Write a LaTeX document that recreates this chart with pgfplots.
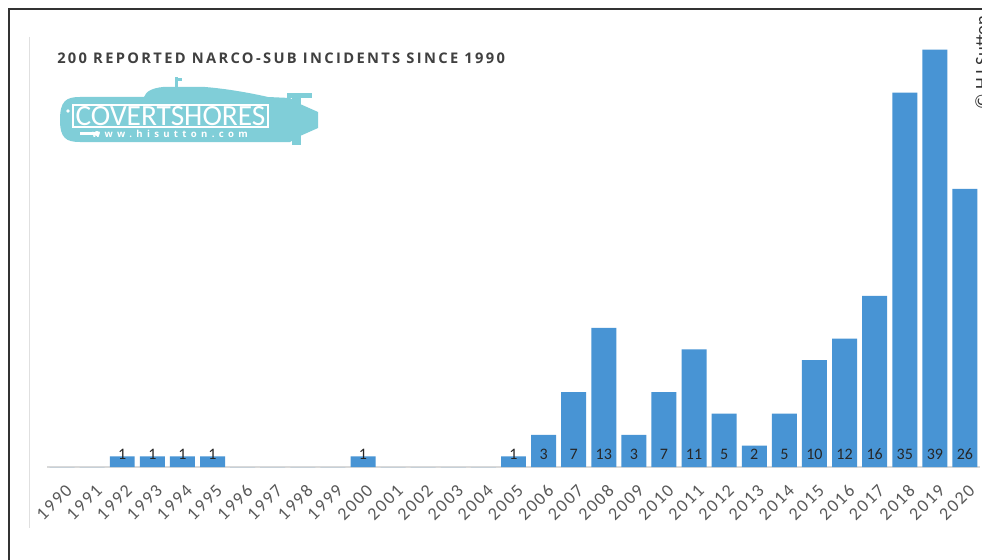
\documentclass[border=0pt]{standalone}
\usepackage{fontspec}
\setmainfont{Carlito}
\newfontfamily\titlefont[LetterSpace=16]{Open Sans}
\newfontfamily\logofont[LetterSpace=45]{Open Sans}
\newfontfamily\tickfam[LetterSpace=10]{Carlito}
\usepackage{pgfplots}
\pgfplotsset{compat=1.18}
\definecolor{barblue}{RGB}{72,148,212}
\definecolor{logoteal}{RGB}{128,206,216}
\definecolor{ticktext}{RGB}{89,89,89}
\definecolor{titletext}{RGB}{64,64,64}
\newcommand{\tickfont}{\tickfam\fontsize{13.5}{14}\selectfont}
\newcommand{\labfont}{\fontsize{12}{13}\selectfont}
\begin{document}
\begin{tikzpicture}
\begin{scope}[x=0.75pt,y=-0.75pt]
\useasboundingbox (0,0) rectangle (982,560);
\fill[white] (0,0) rectangle (982,560);
\draw[black!80, line width=1.5pt] (9,560) -- (9,9) -- (990,9);
\draw[black!12, line width=0.75pt] (29,37) -- (29,528);
% title
\node[anchor=base west, inner sep=0, text=titletext, font=\titlefont\bfseries\fontsize{11}{13}\selectfont] at (57,63.5) {200 REPORTED NARCO-SUB INCIDENTS SINCE 1990};
% logo
\fill[logoteal] (60,120) .. controls (60,101) and (66,97) .. (80,97) -- (144,97) .. controls (146,91) and (153,88) .. (163,87) -- (205,87) .. controls (230,89) and (255,94) .. (268,97) -- (290,98) -- (300,104) -- (318,112) -- (318,128) -- (300,136) -- (290,142) -- (80,142) .. controls (66,142) and (60,138) .. (60,120) -- cycle;
\fill[logoteal] (287,93) rectangle (312,98);
\fill[logoteal] (292,95) rectangle (301,145);
\fill[logoteal] (175,77) rectangle (178,89);
\fill[logoteal] (178,78) rectangle (182,81);
\draw[white, line width=1.2pt] (73,105) rectangle (268,127);
\node[inner sep=0, text=white, font=\fontsize{22}{22}\selectfont] at (170.5,116.5) {COVERTSHORES};
\node[inner sep=0, text=white, font=\logofont\bfseries\fontsize{7.2}{8}\selectfont] at (170,133.5) {www.hisutton.com};
\fill[white] (80,132) rectangle (97,135);
\fill[white] (97,133.5) circle (2.5);
\fill[white] (68,111) circle (1.8);
% copyright
\node[rotate=90, anchor=base west, inner sep=0, text=black!80, font=\fontsize{14}{16}\selectfont] at (988,110) {\textcopyright{} H I Sutton};
\end{scope}
\begin{axis}[
  at={(35.25pt,-350.25pt)}, anchor=south west,
  scale only axis, width=699.75pt, height=321pt,
  xmin=1989.5, xmax=2020.5, ymin=0, ymax=40,
  axis x line*=bottom, axis y line=none,
  x axis line style={draw=black!15, line width=1pt, -},
  xtick={1990,...,2020}, major tick length=0pt, ytick=\empty,
  xticklabel={\tickfont\pgfmathprintnumber[1000 sep={},assume math mode=true,fixed,precision=0]{\tick}},
  xticklabel style={xshift=2pt, yshift=-12pt, rotate=45, anchor=north east, inner sep=0pt, text=ticktext},
  clip=false,
]
\addplot[ybar, bar width=0.83, fill=barblue, draw=none] coordinates {
(1990,0) (1991,0) (1992,1) (1993,1) (1994,1) (1995,1) (1996,0) (1997,0) (1998,0) (1999,0)
(2000,1) (2001,0) (2002,0) (2003,0) (2004,0) (2005,1) (2006,3) (2007,7) (2008,13) (2009,3)
(2010,7) (2011,11) (2012,5) (2013,2) (2014,5) (2015,10) (2016,12) (2017,16) (2018,35) (2019,39) (2020,26)
};
\addplot[draw=none, mark=none, nodes near coords={\labfont\pgfplotspointmeta}, point meta=explicit symbolic,
  every node near coord/.style={anchor=base, inner sep=0pt, yshift=6pt, text=black!85}] coordinates {
(1992,0)[1] (1993,0)[1] (1994,0)[1] (1995,0)[1] (2000,0)[1] (2005,0)[1] (2006,0)[3] (2007,0)[7] (2008,0)[13] (2009,0)[3]
(2010,0)[7] (2011,0)[11] (2012,0)[5] (2013,0)[2] (2014,0)[5] (2015,0)[10] (2016,0)[12] (2017,0)[16] (2018,0)[35] (2019,0)[39] (2020,0)[26]
};
\end{axis}
\end{tikzpicture}
\end{document}
